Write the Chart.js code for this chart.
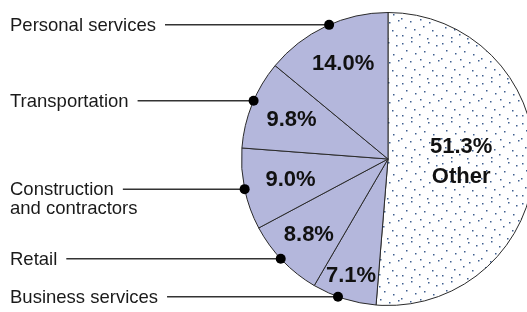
<!DOCTYPE html>
<html>
<head>
<meta charset="utf-8">
<script src="https://cdn.jsdelivr.net/npm/chart.js@4.4.1/dist/chart.umd.min.js"></script>
<style>
  html, body { margin: 0; padding: 0; background: #fff; overflow: hidden; }
  canvas { display: block; }
</style>
</head>
<body>
<canvas id="pie" width="545" height="312"></canvas>
<script>
// slice order runs clockwise from 12 o'clock
var categories = ["Other", "Business services", "Retail", "Construction and contractors", "Transportation", "Personal services"];
var shares = [51.3, 7.1, 8.8, 9.0, 9.8, 14.0];
var labelLines = [["Other"], ["Business services"], ["Retail"], ["Construction", "and contractors"], ["Transportation"], ["Personal services"]];

// how far out (fraction of radius) the % text sits in each slice
var pctRadius = [0.5, 0.84, 0.75, 0.68, 0.71, 0.72];
// small nudge (degrees) of the rim dot away from the slice middle
var dotShift = [0, 2.5, 1, 0, 1.5, 1.5];

var sliceFill = "#b4b7dc";
var edgeColor = "#2a2a2a";

function dotPattern() {
  var tile = document.createElement("canvas");
  tile.width = 40;
  tile.height = 40;
  var c = tile.getContext("2d");
  c.fillStyle = "#fff";
  c.fillRect(0, 0, 40, 40);
  c.fillStyle = "#3f5f90";
  var pts = [[2,3],[11,1],[19,6],[28,2],[36,5],[6,10],[15,13],[24,11],[33,14],
    [1,18],[10,21],[20,19],[29,22],[38,20],[5,27],[14,29],[23,26],[32,30],
    [2,35],[11,37],[19,34],[27,38],[36,35]];
  pts.forEach(function (p) { c.fillRect(p[0], p[1], 1.5, 1.5); });
  return document.getElementById("pie").getContext("2d").createPattern(tile, "repeat");
}

var labelPlugin = {
  id: "sliceLabels",
  afterDraw: function (chart) {
    var ctx = chart.ctx;
    var arcs = chart.getDatasetMeta(0).data;
    ctx.save();
    arcs.forEach(function (arc, i) {
      var mid = (arc.startAngle + arc.endAngle) / 2;
      var r = arc.outerRadius;
      // percentage text inside the slice
      var px = arc.x + Math.cos(mid) * r * pctRadius[i];
      var py = arc.y + Math.sin(mid) * r * pctRadius[i];
      ctx.fillStyle = "#111";
      ctx.font = "bold 22px 'Liberation Sans', Arial, sans-serif";
      ctx.textAlign = "center";
      ctx.textBaseline = "middle";
      var pct = shares[i].toFixed(1) + "%";
      if (i === 0) {
        ctx.fillText(pct, px, py - 15);
        ctx.fillText(categories[0], px, py + 15);
        return;
      }
      ctx.fillText(pct, px, py);

      // leader line from the left label to a dot on the rim
      var a = mid + dotShift[i] * Math.PI / 180;
      var dx = arc.x + Math.cos(a) * r;
      var dy = arc.y + Math.sin(a) * r;
      var lines = labelLines[i];
      ctx.fillStyle = "#1a1a1a";
      ctx.font = "18.5px 'Liberation Sans', Arial, sans-serif";
      ctx.textAlign = "left";
      ctx.textBaseline = "alphabetic";
      lines.forEach(function (t, k) {
        ctx.fillText(t, 10, dy + 6 + k * 19);
      });
      var lineStart = 10 + ctx.measureText(lines[0]).width + 9;
      ctx.strokeStyle = "#333";
      ctx.lineWidth = 1.5;
      ctx.beginPath();
      ctx.moveTo(lineStart, dy);
      ctx.lineTo(dx, dy);
      ctx.stroke();
      ctx.fillStyle = "#000";
      ctx.beginPath();
      ctx.arc(dx, dy, 5, 0, Math.PI * 2);
      ctx.fill();
    });
    ctx.restore();
  }
};

var fills = shares.map(function (v, i) { return i === 0 ? dotPattern() : sliceFill; });

new Chart(document.getElementById("pie").getContext("2d"), {
  type: "pie",
  data: {
    labels: categories,
    datasets: [{
      data: shares,
      backgroundColor: fills,
      borderColor: edgeColor,
      borderWidth: 1
    }]
  },
  options: {
    responsive: false,
    animation: false,
    layout: { padding: { left: 241, right: 10, top: 12, bottom: 6 } },
    plugins: {
      legend: { display: false },
      tooltip: { enabled: false }
    }
  },
  plugins: [labelPlugin]
});
</script>
</body>
</html>
